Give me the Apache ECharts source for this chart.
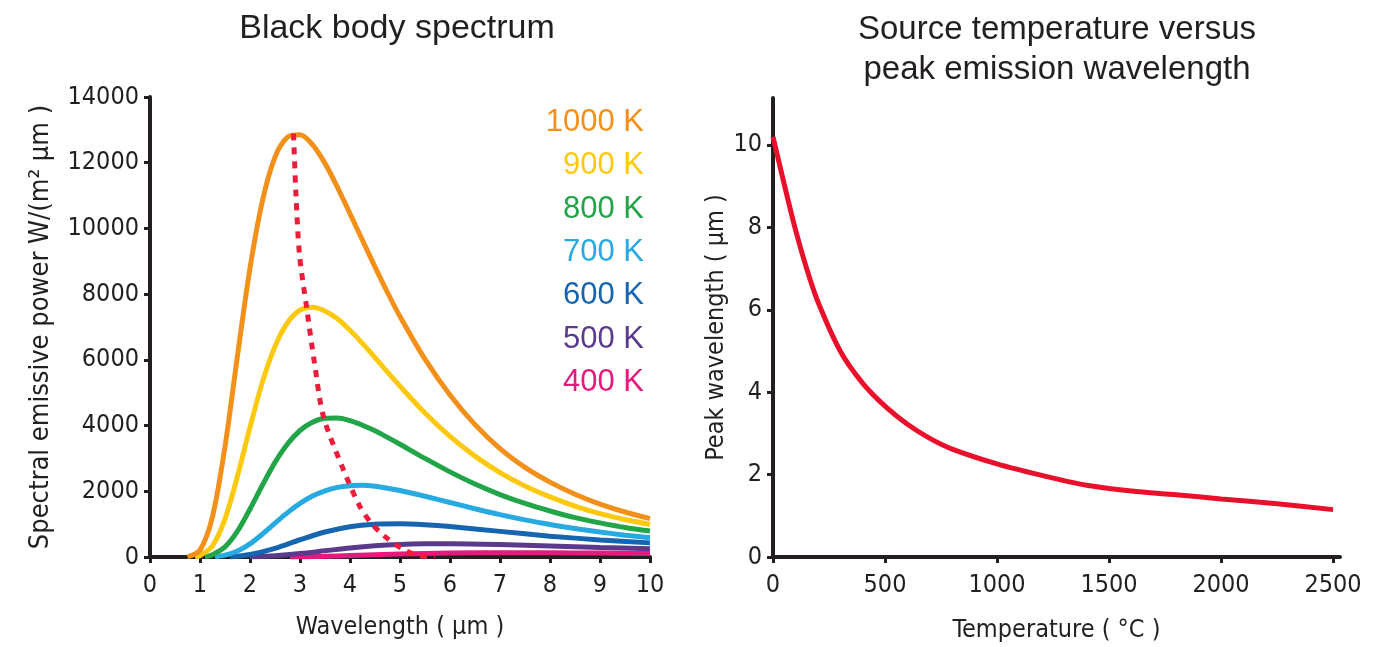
<!DOCTYPE html>
<html>
<head>
<meta charset="utf-8">
<script src="https://cdn.jsdelivr.net/npm/echarts@6/dist/echarts.min.js"></script>
<style>
html,body{margin:0;padding:0;background:#fff;}
#c{width:1378px;height:647px;}
</style>
</head>
<body>
<div id="c"></div>
<script>
// ---- Left chart: spectral emissive power W/(m² µm) vs wavelength (µm) ----
const k1000 = [[0.75,5],[1.0,210],[1.25,1230],[1.5,3360],[1.75,6130],[2.0,8790],[2.25,10850],[2.5,12170],[2.75,12780],[3.0,12850],[3.25,12550],[3.5,11980],[3.75,11250],[4.0,10450],[4.25,9640],[4.5,8830],[4.75,8050],[5.0,7320],[5.5,6020],[6.0,4930],[6.5,4030],[7.0,3300],[7.5,2730],[8.0,2280],[8.5,1910],[9.0,1610],[9.5,1370],[10.0,1170]];
const k900 = [[0.9,0],[1.0,45],[1.25,340],[1.5,1160],[1.75,2460],[2.0,3950],[2.25,5330],[2.5,6410],[2.75,7130],[3.0,7510],[3.25,7600],[3.5,7490],[3.75,7250],[4.0,6900],[4.25,6500],[4.5,6070],[4.75,5630],[5.0,5200],[5.5,4380],[6.0,3670],[6.5,3070],[7.0,2570],[7.5,2160],[8.0,1830],[8.5,1550],[9.0,1320],[9.5,1140],[10.0,990]];
const k800 = [[1.1,0],[1.25,70],[1.5,310],[1.75,790],[2.0,1460],[2.25,2190],[2.5,2880],[2.75,3440],[3.0,3850],[3.25,4100],[3.5,4220],[3.75,4230],[4.0,4150],[4.25,4010],[4.5,3840],[4.75,3640],[5.0,3430],[5.5,3000],[6.0,2590],[6.5,2220],[7.0,1900],[7.5,1630],[8.0,1400],[8.5,1200],[9.0,1040],[9.5,900],[10.0,790]];
const k700 = [[1.3,0],[1.5,55],[1.75,180],[2.0,400],[2.25,700],[2.5,1030],[2.75,1350],[3.0,1630],[3.25,1855],[3.5,2015],[3.75,2120],[4.0,2170],[4.25,2180],[4.5,2150],[4.75,2095],[5.0,2025],[5.5,1850],[6.0,1660],[6.5,1470],[7.0,1290],[7.5,1130],[8.0,990],[8.5,865],[9.0,760],[9.5,665],[10.0,585]];
const k600 = [[1.6,0],[2.0,75],[2.5,265],[3.0,525],[3.5,760],[4.0,920],[4.5,995],[5.0,1010],[5.5,980],[6.0,925],[7.0,780],[8.0,635],[9.0,520],[10.0,430]];
const k500 = [[2.0,0],[2.5,40],[3.0,105],[3.5,190],[4.0,275],[4.5,340],[5.0,380],[5.5,400],[6.0,405],[7.0,380],[8.0,335],[9.0,290],[10.0,250]];
const k400 = [[2.8,0],[3.5,20],[4.0,46],[5.0,90],[6.0,120],[7.0,131],[8.0,129],[9.0,119],[10.0,105]];
const peakLocus = [[2.87,12890],[2.92,11000],[2.99,9200],[3.13,7620],[3.3,5800],[3.47,4270],[3.87,2650],[4.2,1530],[4.43,1025],[4.7,620],[5.03,265],[5.33,60],[5.7,0]];
const tempNames = ['1000 K','900 K','800 K','700 K','600 K','500 K','400 K'];
const tempColors = ['#f39019','#fdc90f','#21a548','#27aae1','#1565b0','#5b3a8e','#e6197d'];

// ---- Right chart: peak wavelength (µm) vs temperature (°C) ----
const tempC = [0,50,100,150,200,300,400,500,600,700,800,1000,1200,1400,1600,1800,2000,2250,2500];
const peakWl = [10.2,9.05,7.95,7.0,6.2,5.0,4.22,3.66,3.22,2.88,2.62,2.26,1.98,1.74,1.60,1.51,1.41,1.29,1.15];
const rightXTicks = [0,500,1000,1500,2000,2500];
const rightYTicks = [0,2,4,6,8,10];

const ink = '#231f20';
const narrow = "'Liberation Sans Narrow','DejaVu Sans Condensed',sans-serif";
const regular = "'Liberation Sans',Arial,sans-serif";

const spectra = [k1000,k900,k800,k700,k600,k500,k400];
const plain = v => String(v);

const axisCommon = {
  axisLine:{show:true,onZero:false,lineStyle:{color:ink,width:4}},
  axisTick:{show:true,length:6,lineStyle:{color:ink,width:3}},
  splitLine:{show:false},
  axisLabel:{color:ink,fontFamily:narrow,fontSize:25,formatter:plain},
  nameTextStyle:{color:ink,fontFamily:narrow,fontSize:25},
  nameLocation:'middle'
};

const chart = echarts.init(document.getElementById('c'), null, {renderer:'canvas'});
const series = spectra.map((d,i)=>({
  name: tempNames[i], type:'line', xAxisIndex:0, yAxisIndex:0,
  data: d, showSymbol:false, symbol:'none', smooth:0.3,
  lineStyle:{color:tempColors[i],width:5}, itemStyle:{color:tempColors[i]}, z:10-i
}));
series.push({
  name:'peak', type:'line', xAxisIndex:0, yAxisIndex:0, data:peakLocus,
  showSymbol:false, symbol:'none', smooth:0.3,
  lineStyle:{color:'#ed1c3a',width:5,type:[7,7]}, z:20
});
series.push({
  name:'Peak wavelength', type:'line', xAxisIndex:1, yAxisIndex:1,
  data: tempC.map((t,i)=>[t,peakWl[i]]), showSymbol:false, symbol:'none', smooth:0.3,
  lineStyle:{color:'#e8102a',width:5}, z:10
});

chart.setOption({
  animation:false,
  backgroundColor:'#ffffff',
  title:[
    {text:'Black body spectrum', left:397, top:12, textAlign:'center', padding:0,
     textStyle:{color:ink,fontFamily:regular,fontSize:34,fontWeight:'normal'}},
    {text:'Source temperature versus\npeak emission wavelength', left:1057, top:10, textAlign:'center', padding:0,
     textStyle:{color:ink,fontFamily:regular,fontSize:33,fontWeight:'normal',lineHeight:40}}
  ],
  legend:{
    orient:'vertical', right:729, top:107, align:'right', icon:'none',
    itemWidth:0, itemHeight:30, itemGap:12.3, padding:0, selectedMode:false,
    textStyle:{fontFamily:regular,fontSize:31,lineHeight:30},
    data: tempNames.map((n,i)=>({name:n, textStyle:{color:tempColors[i]}}))
  },
  grid:[
    {left:150,right:728,top:97,bottom:90,outerBoundsMode:'none',containLabel:false},
    {left:773,right:38,top:98,bottom:90,outerBoundsMode:'none',containLabel:false}
  ],
  xAxis:[
    Object.assign({}, axisCommon, {type:'value', gridIndex:0, min:0, max:10, interval:1,
      name:'Wavelength ( µm )', nameGap:58,
      axisLabel:Object.assign({}, axisCommon.axisLabel, {margin:16})}),
    Object.assign({}, axisCommon, {type:'value', gridIndex:1, min:0, max:2531, interval:500,
      name:'Temperature ( °C )', nameGap:61,
      axisTick:Object.assign({}, axisCommon.axisTick, {customValues:rightXTicks}),
      axisLabel:Object.assign({}, axisCommon.axisLabel, {margin:16, customValues:rightXTicks})})
  ],
  yAxis:[
    Object.assign({}, axisCommon, {type:'value', gridIndex:0, min:0, max:14000, interval:2000,
      name:'Spectral emissive power W/(m² µm )', nameGap:96,
      nameTextStyle:Object.assign({}, axisCommon.nameTextStyle, {fontSize:27}),
      axisLabel:Object.assign({}, axisCommon.axisLabel, {margin:11})}),
    Object.assign({}, axisCommon, {type:'value', gridIndex:1, min:0, max:11.14, interval:2,
      name:'Peak wavelength ( µm )', nameGap:41,
      axisTick:Object.assign({}, axisCommon.axisTick, {customValues:rightYTicks}),
      axisLabel:Object.assign({}, axisCommon.axisLabel, {margin:11, customValues:rightYTicks})})
  ],
  series: series
});
</script>
</body>
</html>
